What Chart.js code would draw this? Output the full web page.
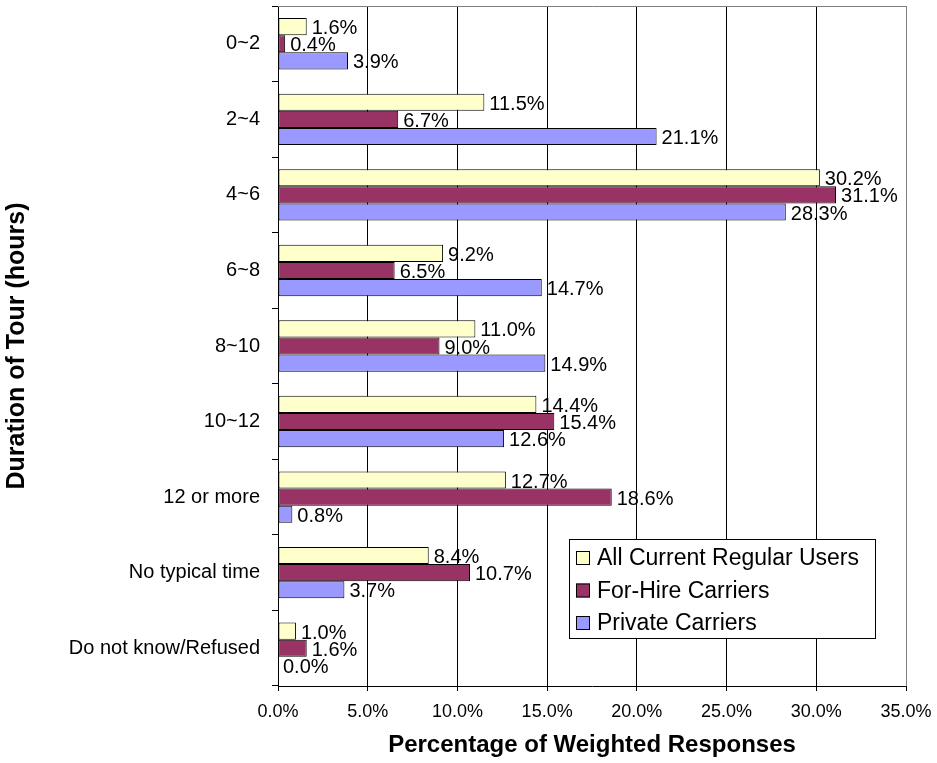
<!DOCTYPE html>
<html>
<head>
<meta charset="utf-8">
<script src="https://cdn.jsdelivr.net/npm/chart.js@4/dist/chart.umd.min.js"></script>
<style>
  html, body { margin: 0; padding: 0; background: #fff; }
  #wrap { width: 937px; height: 763px; }
</style>
</head>
<body>
<div id="wrap"><canvas id="chart" width="937" height="763"></canvas></div>
<script>
// Duration of tour by respondent group (% of weighted responses)
const categories = ['0~2', '2~4', '4~6', '6~8', '8~10', '10~12', '12 or more', 'No typical time', 'Do not know/Refused'];
const seriesNames = ['All Current Regular Users', 'For-Hire Carriers', 'Private Carriers'];
const allUsers        = [1.6, 11.5, 30.2, 9.2, 11.0, 14.4, 12.7, 8.4, 1.0];
const forHire         = [0.4, 6.7, 31.1, 6.5, 9.0, 15.4, 18.6, 10.7, 1.6];
const privateCarriers = [3.9, 21.1, 28.3, 14.7, 14.9, 12.6, 0.8, 3.7, 0.0];
const xTicks = [0, 5, 10, 15, 20, 25, 30, 35];

const FONT   = "'Liberation Sans', Arial, sans-serif";
const YELLOW = '#FFFFCC';
const PLUM   = '#993366';
const LILAC  = '#9999FF';
const FRAME  = '#808080';

Chart.defaults.font.family = FONT;
Chart.defaults.color = '#000';

const pct = v => Number(v).toFixed(1) + '%';

// gray top/right border of the plot area
const plotFrame = {
  id: 'plotFrame',
  beforeDatasetsDraw(chart) {
    const { ctx, chartArea: a } = chart;
    ctx.save();
    ctx.strokeStyle = FRAME;
    ctx.lineWidth = 1;
    ctx.beginPath();
    ctx.moveTo(a.left, a.top + 0.5);
    ctx.lineTo(a.right + 0.5, a.top + 0.5);
    ctx.lineTo(a.right + 0.5, a.bottom);
    ctx.stroke();
    ctx.restore();
  },
};

// value labels at the end of each bar
const barLabels = {
  id: 'barLabels',
  afterDatasetsDraw(chart) {
    const { ctx } = chart;
    ctx.save();
    ctx.font = `20px ${FONT}`;
    ctx.fillStyle = '#000';
    ctx.textAlign = 'left';
    ctx.textBaseline = 'middle';
    chart.data.datasets.forEach((ds, i) => {
      chart.getDatasetMeta(i).data.forEach((bar, j) => {
        ctx.fillText(pct(ds.data[j]), bar.x + 5, bar.y + 2);
      });
    });
    ctx.restore();
  },
};

// boxed legend inside the lower right of the plot
const boxLegend = {
  id: 'boxLegend',
  afterDraw(chart) {
    const { ctx, chartArea: a } = chart;
    const w = 306, h = 99, rowH = 32.5;
    const x0 = a.right - 31 - w;
    const y0 = a.bottom - 48 - h;
    ctx.save();
    ctx.fillStyle = '#fff';
    ctx.fillRect(x0, y0, w, h);
    ctx.strokeStyle = '#000';
    ctx.lineWidth = 1;
    ctx.strokeRect(x0 + 0.5, y0 + 0.5, w, h);
    ctx.font = `23px ${FONT}`;
    ctx.textBaseline = 'middle';
    chart.data.datasets.forEach((ds, i) => {
      const cy = y0 + 19 + i * rowH;
      ctx.fillStyle = ds.backgroundColor;
      ctx.fillRect(x0 + 7, cy - 7, 14, 14);
      ctx.strokeRect(x0 + 7.5, cy - 6.5, 13, 13);
      ctx.fillStyle = '#000';
      ctx.fillText(ds.label, x0 + 28, cy + 1);
    });
    ctx.restore();
  },
};

const barStyle = {
  borderColor: '#000',
  borderWidth: 1,
  borderSkipped: false,
  categoryPercentage: 0.68,
  barPercentage: 1.0,
};

new Chart(document.getElementById('chart'), {
  type: 'bar',
  data: {
    labels: categories,
    datasets: [
      { label: seriesNames[0], data: allUsers,        backgroundColor: YELLOW, ...barStyle },
      { label: seriesNames[1], data: forHire,         backgroundColor: PLUM,   ...barStyle },
      { label: seriesNames[2], data: privateCarriers, backgroundColor: LILAC,  ...barStyle },
    ],
  },
  options: {
    indexAxis: 'y',
    responsive: false,
    animation: false,
    layout: { padding: { top: 6, right: 31, left: 0, bottom: 0 } },
    plugins: {
      legend:  { display: false },
      tooltip: { enabled: false },
    },
    scales: {
      x: {
        min: 0,
        max: 35,
        afterBuildTicks: s => { s.ticks = xTicks.map(v => ({ value: v })); },
        afterFit: s => { s.height = 77; s.paddingLeft = 0; s.paddingRight = 0; },
        grid: {
          color: c => (c.tick && c.tick.value === 35 ? FRAME : '#000'),
          tickColor: '#000',
          tickLength: 5,
          lineWidth: 1,
        },
        border: { color: '#000', width: 1 },
        ticks: { font: { size: 18 }, padding: 10, callback: v => pct(v), maxRotation: 0 },
        title: {
          display: true,
          text: 'Percentage of Weighted Responses',
          font: { size: 24, weight: 'bold' },
          padding: { top: 0, bottom: 3 },
        },
      },
      y: {
        afterFit: s => { s.width = 278; s.paddingTop = 0; s.paddingBottom = 0; },
        grid: {
          drawOnChartArea: false,
          offset: true,
          color: '#000',
          tickLength: 6,
        },
        border: { color: '#000', width: 1 },
        ticks: { font: { size: 20 }, padding: 12 },
        title: {
          display: true,
          text: 'Duration of Tour (hours)',
          font: { size: 25, weight: 'bold' },
          padding: { top: 2, bottom: 0 },
        },
      },
    },
  },
  plugins: [plotFrame, barLabels, boxLegend],
});
</script>
</body>
</html>
